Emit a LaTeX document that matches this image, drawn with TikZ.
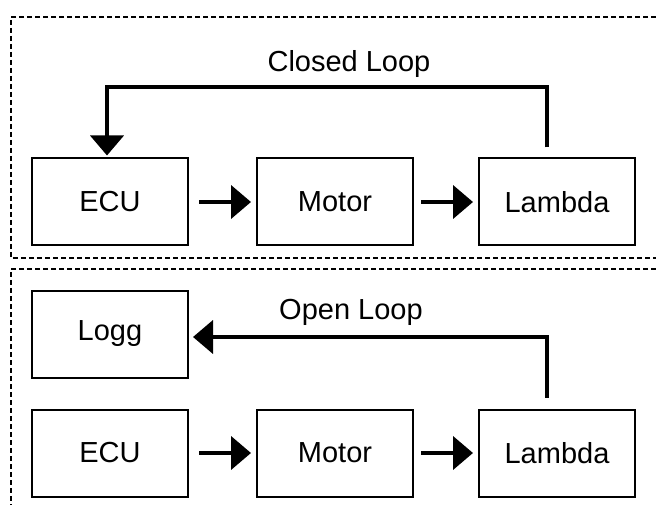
\documentclass[tikz,border=0pt]{standalone}
\usepackage{fontspec}
\setmainfont{Liberation Sans}
\usetikzlibrary{positioning,arrows.meta}

\begin{document}
\begin{tikzpicture}[
    block/.style={draw, line width=2pt, minimum width=156pt, minimum height=87pt,
                  inner sep=0pt, font=\fontsize{29}{34}\selectfont},
    lbl/.style={font=\fontsize{29}{34}\selectfont, inner sep=0pt},
    flow/.style={line width=4pt, -{Triangle[length=20pt,width=33pt]}},
    frame/.style={line width=2pt, dash pattern=on 5pt off 3pt},
  ]
  \useasboundingbox (0,0) rectangle (656pt,-505pt);

  % closed loop
  \node[block] (ecu1) at (110pt,-202pt) {ECU};
  \node[block, right=67pt of ecu1] (motor1) {Motor};
  \node[block, right=64pt of motor1] (lambda1) {Lambda};
  \coordinate[above=70pt of lambda1.north, xshift=-10pt] (c1);
  \node[lbl] (closed) at ([shift={(14pt,23pt)}]motor1.north |- c1) {Closed Loop};

  % open loop
  \node[block, below=162pt of ecu1] (ecu2) {ECU};
  \node[block, right=67pt of ecu2] (motor2) {Motor};
  \node[block, right=64pt of motor2] (lambda2) {Lambda};
  \node[block, above=30pt of ecu2] (logg) {Logg};
  \coordinate (c2) at ([xshift=-10pt]lambda2.north |- logg.east);
  \node[lbl] (open) at ([shift={(16pt,22pt)}]motor2.north |- logg.east) {Open Loop};

  \draw[flow] ([xshift=10pt]ecu1.east) -- ([xshift=-5pt]motor1.west);
  \draw[flow] ([xshift=7pt]motor1.east) -- ([xshift=-5pt]lambda1.west);
  \draw[flow] ([shift={(-10pt,10pt)}]lambda1.north) -- (c1)
        -| ([shift={(-3pt,2pt)}]ecu1.north);

  \draw[flow] ([xshift=10pt]ecu2.east) -- ([xshift=-5pt]motor2.west);
  \draw[flow] ([xshift=7pt]motor2.east) -- ([xshift=-5pt]lambda2.west);
  \draw[flow] ([shift={(-10pt,11pt)}]lambda2.north) -- ([yshift=-3pt]c2)
        -- ([shift={(4pt,-3pt)}]logg.east);

  \draw[frame] (656pt,-17pt) -- (11pt,-17pt) -- (11pt,-258pt) -- (656pt,-258pt);
  \draw[frame] (656pt,-269pt) -- (11pt,-269pt) -- (11pt,-505pt);
\end{tikzpicture}
\end{document}
